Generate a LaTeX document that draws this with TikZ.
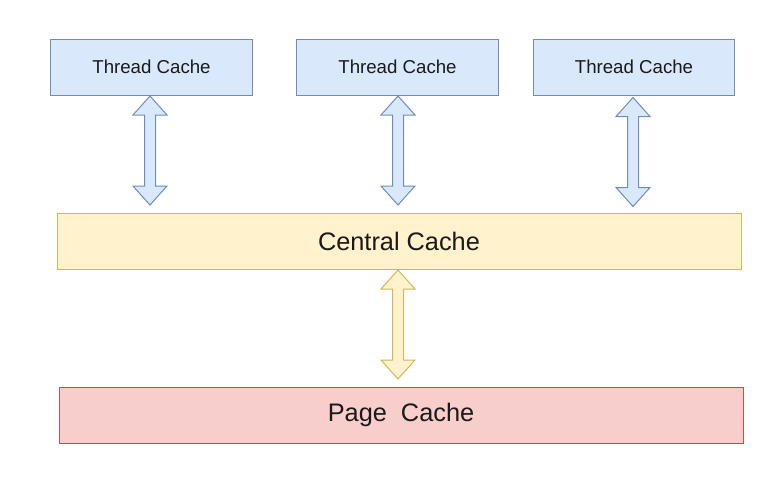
\documentclass[tikz,border=0pt]{standalone}
\usepackage{fontspec}
\setmainfont{Liberation Sans}
\definecolor{bluefill}{HTML}{DAE8FC}
\definecolor{bluedraw}{HTML}{6C8EBF}
\definecolor{yelfill}{HTML}{FFF2CC}
\definecolor{yeldraw}{HTML}{D6B656}
\definecolor{redfill}{HTML}{F8CECC}
\definecolor{reddraw}{HTML}{B85450}
\definecolor{txt}{HTML}{1A1A1A}
\tikzset{
  box/.style={draw, line width=0.75pt, inner sep=0pt, text=txt},
  tcbox/.style={box, fill=bluefill, draw=bluedraw, minimum width=151pt, minimum height=42pt, font=\fontsize{14}{16}\selectfont},
  bigbox/.style={box, minimum width=513pt, minimum height=42pt, font=\fontsize{19}{22}\selectfont},
  dblarrow/.pic={
    \draw[line width=0.75pt, pic actions] (0,-54.5) -- (17,-35.5) -- (5.5,-35.5) -- (5.5,35.5) -- (17,35.5) -- (0,54.5) -- (-17,35.5) -- (-5.5,35.5) -- (-5.5,-35.5) -- (-17,-35.5) -- cycle;
  }
}
\begin{document}
\begin{tikzpicture}[x=0.75pt, y=-0.75pt]
\useasboundingbox (0,0) rectangle (774,486);
\node[tcbox] (t1) at (151.5,67) {Thread Cache};
\node[tcbox] (t2) at (397.5,67) {Thread Cache};
\node[tcbox] (t3) at (634,67) {Thread Cache};
\node[bigbox, fill=yelfill, draw=yeldraw] (cc) at (399,241) {Central Cache};
\node[bigbox, fill=redfill, draw=reddraw] (pc) at (401,415) {Page~~Cache};
\pic[fill=bluefill, draw=bluedraw] (a1) at (150,150.5) {dblarrow};
\pic[fill=bluefill, draw=bluedraw] (a2) at (398,150.5) {dblarrow};
\pic[fill=bluefill, draw=bluedraw] (a3) at (633,152) {dblarrow};
\pic[fill=yelfill, draw=yeldraw] (a4) at (398,324.5) {dblarrow};
\end{tikzpicture}
\end{document}
